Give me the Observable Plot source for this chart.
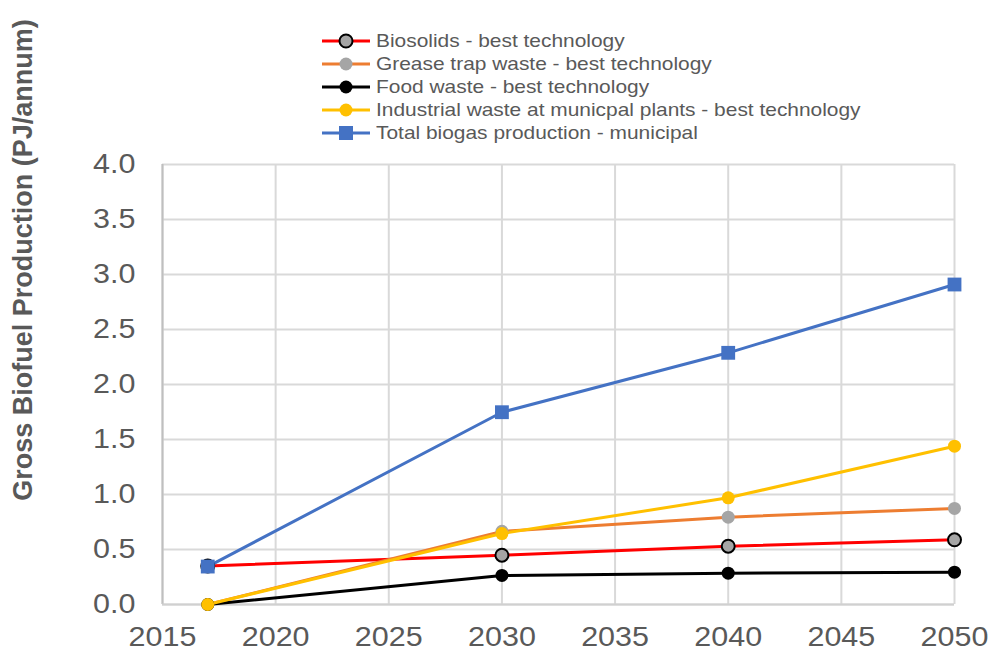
<!DOCTYPE html>
<html>
<head>
<meta charset="utf-8">
<script src="https://cdn.jsdelivr.net/npm/d3@7"></script>
<script src="https://cdn.jsdelivr.net/npm/@observablehq/plot@0.6"></script>
<style>
  html, body { margin: 0; padding: 0; background: #fff; }
  #wrap { position: relative; width: 990px; height: 650px; overflow: hidden; font-family: "Liberation Sans", Arial, sans-serif; }
  #ylabel { position: absolute; left: 23px; top: 260px; transform: translate(-50%, -50%) rotate(-90deg);
            white-space: nowrap; font-weight: bold; font-size: 27px; color: #595959; }
  #legend { position: absolute; left: 322px; top: 30px; font-size: 18.5px; color: #595959; }
  .row { display: flex; align-items: center; height: 22.8px; white-space: nowrap; }
  .row svg { margin-right: 6px; flex: none; }
  .row span { display: inline-block; transform: scaleX(1.13); transform-origin: left center; }
</style>
</head>
<body>
<div id="wrap">
  <div id="chart"></div>
  <div id="ylabel">Gross Biofuel Production (PJ/annum)</div>
  <div id="legend"></div>
</div>
<script>
const years = [2017, 2030, 2040, 2050];
const seriesNames = [
  "Biosolids - best technology",
  "Grease trap waste - best technology",
  "Food waste - best technology",
  "Industrial waste at municpal plants - best technology",
  "Total biogas production - municipal"
];
const biosolids = [0.35, 0.448, 0.53, 0.588];
const grease = [0, 0.665, 0.794, 0.873];
const food = [0, 0.264, 0.285, 0.294];
const industrial = [0, 0.645, 0.97, 1.439];
const total = [0.345, 1.748, 2.288, 2.909];
const xTicks = [2015, 2020, 2025, 2030, 2035, 2040, 2045, 2050];
const yTicks = [0, 0.5, 1, 1.5, 2, 2.5, 3, 3.5, 4];

const lineColors = ["#ff0000", "#ed7d31", "#000000", "#ffc000", "#4472c4"];
const markerFill = ["#a5a5a5", "#a5a5a5", "#000000", "#ffc000", "#4472c4"];
const markerStroke = ["#000000", "none", "none", "none", "none"];
const markerSymbol = ["circle", "circle", "circle", "circle", "square"];
const values = [biosolids, grease, food, industrial, total];

const marks = [
  Plot.gridX(xTicks, {stroke: "#d9d9d9", strokeOpacity: 1, strokeWidth: 2}),
  Plot.gridY(yTicks, {stroke: "#d9d9d9", strokeOpacity: 1, strokeWidth: 2}),
  Plot.ruleX([2015], {stroke: "#bfbfbf", strokeWidth: 2}),
  Plot.ruleY([0], {stroke: "#d0d0d0", strokeWidth: 2}),
  Plot.axisX({ticks: xTicks, tickSize: 0, tickPadding: 22, tickFormat: d => String(d), fontSize: 27, label: null}),
  Plot.axisY({ticks: yTicks, tickSize: 0, tickPadding: 27, tickFormat: d3.format(".1f"), fontSize: 27, label: null})
];

values.forEach((vals, i) => {
  const data = years.map((y, j) => ({year: y, value: vals[j]}));
  marks.push(Plot.line(data, {x: "year", y: "value", stroke: lineColors[i], strokeWidth: 3, strokeLinejoin: "round"}));
});
values.forEach((vals, i) => {
  const data = years.map((y, j) => ({year: y, value: vals[j]}));
  marks.push(Plot.dot(data, {
    x: "year", y: "value", symbol: markerSymbol[i],
    r: markerSymbol[i] === "square" ? 7.8 : 6.5,
    fill: markerFill[i], stroke: markerStroke[i], strokeWidth: 2
  }));
});

const chart = Plot.plot({
  width: 990,
  height: 650,
  marginLeft: 162,
  marginRight: 36,
  marginTop: 164,
  marginBottom: 46,
  style: {fontFamily: "'Liberation Sans', Arial, sans-serif", color: "#595959", background: "#fff"},
  x: {domain: [2015, 2050]},
  y: {domain: [0, 4]},
  marks
});
// widen tick label glyphs horizontally to match the reference's proportions
chart.querySelectorAll('g[aria-label="x-axis tick label"] text, g[aria-label="y-axis tick label"] text').forEach(t => {
  const ax = parseFloat(t.getAttribute("x") || 0);
  const tr = t.getAttribute("transform") || "";
  t.setAttribute("transform", `${tr} translate(${ax},0) scale(1.13,1) translate(${-ax},0)`);
});
document.getElementById("chart").appendChild(chart);

// legend
const legend = document.getElementById("legend");
seriesNames.forEach((name, i) => {
  const row = document.createElement("div");
  row.className = "row";
  const ns = "http://www.w3.org/2000/svg";
  const svg = document.createElementNS(ns, "svg");
  svg.setAttribute("width", 48); svg.setAttribute("height", 20);
  const ln = document.createElementNS(ns, "line");
  ln.setAttribute("x1", 0); ln.setAttribute("x2", 48); ln.setAttribute("y1", 10); ln.setAttribute("y2", 10);
  ln.setAttribute("stroke", lineColors[i]); ln.setAttribute("stroke-width", 3);
  svg.appendChild(ln);
  let mk;
  if (markerSymbol[i] === "square") {
    mk = document.createElementNS(ns, "rect");
    mk.setAttribute("x", 17); mk.setAttribute("y", 3); mk.setAttribute("width", 14); mk.setAttribute("height", 14);
  } else {
    mk = document.createElementNS(ns, "circle");
    mk.setAttribute("cx", 24); mk.setAttribute("cy", 10); mk.setAttribute("r", 6.5);
  }
  mk.setAttribute("fill", markerFill[i]);
  if (markerStroke[i] !== "none") { mk.setAttribute("stroke", markerStroke[i]); mk.setAttribute("stroke-width", 2); }
  svg.appendChild(mk);
  row.appendChild(svg);
  const span = document.createElement("span");
  span.textContent = name;
  row.appendChild(span);
  legend.appendChild(row);
});
</script>
</body>
</html>
